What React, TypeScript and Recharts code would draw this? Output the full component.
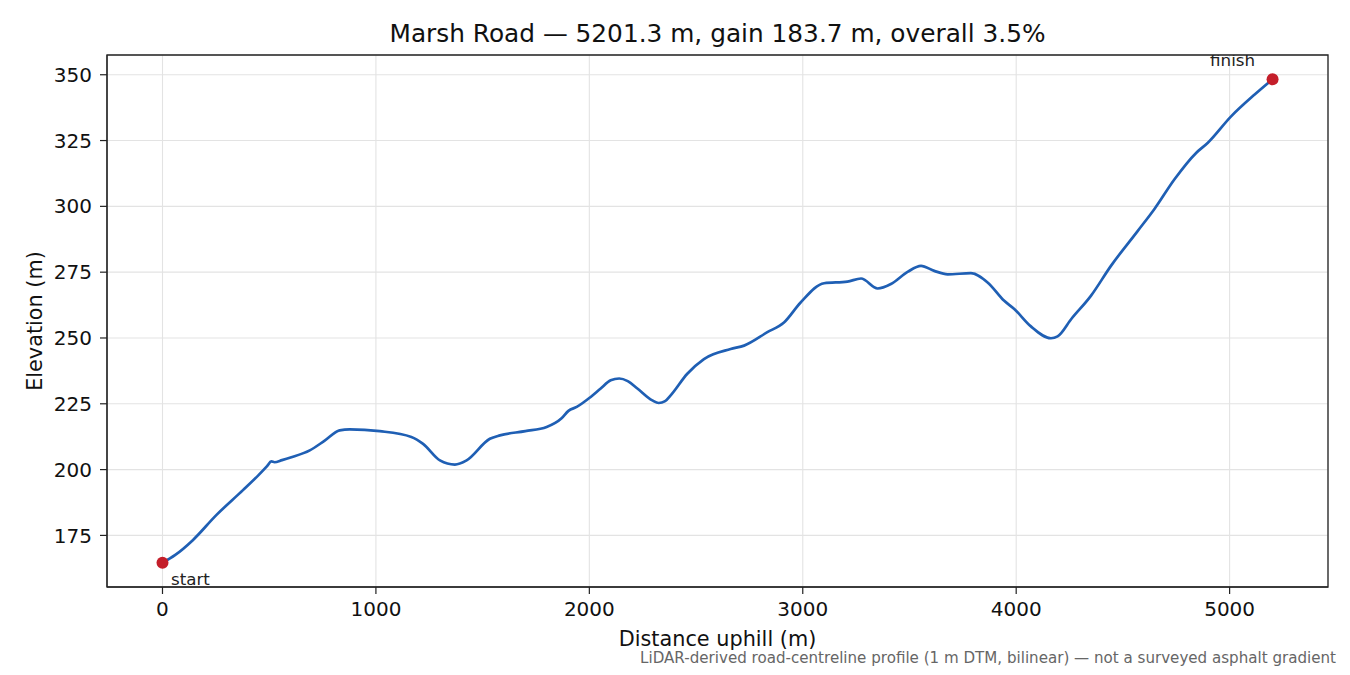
import React from "react";
import { ComposedChart, Line, Scatter, XAxis, YAxis, CartesianGrid, ReferenceArea } from "recharts";

const distances = [0, 60, 142, 252, 377, 450, 490, 510, 525, 560, 600, 690, 760, 830, 877, 1018, 1166, 1221, 1300, 1370, 1425, 1534, 1581, 1700, 1800, 1870, 1902, 1941, 2005, 2052, 2100, 2140, 2180, 2225, 2295, 2325, 2355, 2380, 2459, 2537, 2662, 2725, 2834, 2912, 2990, 3100, 3209, 3273, 3351, 3413, 3491, 3554, 3616, 3679, 3788, 3866, 3944, 3991, 4069, 4163, 4194, 4260, 4350, 4444, 4569, 4647, 4741, 4843, 4897, 5007, 5116, 5201.3];
const elevations = [164.6, 167.6, 173.2, 182.7, 192.2, 197.9, 201.3, 203.1, 202.8, 203.6, 204.6, 207.3, 211.0, 214.9, 215.3, 214.6, 212.4, 209.8, 203.5, 201.9, 203.5, 211.7, 213.0, 214.6, 216.2, 219.5, 222.3, 223.8, 227.5, 230.7, 233.9, 234.6, 233.6, 230.8, 226.3, 225.3, 226.0, 228.1, 236.4, 242.0, 245.8, 247.1, 252.2, 255.9, 263.5, 270.8, 271.4, 272.6, 268.8, 270.5, 275.1, 277.4, 275.5, 274.2, 274.6, 271.1, 264.1, 261.0, 254.4, 249.9, 250.6, 257.4, 266.0, 277.4, 290.6, 298.9, 310.2, 320.3, 324.1, 334.2, 342.4, 348.3];

const endpointNames = ["start", "finish"];
const endpointDistances = [0, 5201.3];
const endpointElevations = [164.6, 348.3];

const xTicks = [0, 1000, 2000, 3000, 4000, 5000];
const yTicks = [175, 200, 225, 250, 275, 300, 325, 350];

const profile = distances.map((d, i) => ({ d, e: elevations[i] }));
const endpoints = endpointNames.map((name, i) => ({ name, d: endpointDistances[i], e: endpointElevations[i] }));

const FONT = "'DejaVu Sans', sans-serif";

const EndShape = (props: any) => {
  const { cx, cy, payload } = props;
  const isStart = payload.name === "start";
  return (
    <g>
      <circle cx={cx} cy={cy} r={6} fill="#c41e2a" />
      <text
        x={isStart ? cx + 8.5 : cx - 62.5}
        y={isStart ? cy + 22 : cy - 13.6}
        fontSize={16.7}
        fontFamily={FONT}
        fill="#222"
      >
        {payload.name}
      </text>
    </g>
  );
};

export default function App() {
  return (
    <div style={{ position: "relative", width: 1350, height: 675, fontFamily: FONT, background: "#fff" }}>
      <style>{`body{margin:0;}`}</style>
      <div style={{ position: "absolute", left: 107, width: 1221, top: 19, textAlign: "center", fontSize: 24.8, color: "#111", whiteSpace: "nowrap" }}>
        Marsh Road — 5201.3 m, gain 183.7 m, overall 3.5%
      </div>
      <ComposedChart width={1350} height={675} data={profile} margin={{ top: 55, right: 22, bottom: 48, left: 37 }}>
        <CartesianGrid stroke="#e3e3e3" strokeWidth={1.1} />
        <XAxis
          dataKey="d"
          type="number"
          domain={[-260, 5461]}
          ticks={xTicks}
          allowDataOverflow
          height={40}
          tick={{ fontSize: 20, fill: "#111", fontFamily: FONT }}
          tickLine={{ stroke: "#222", strokeWidth: 1.2 }}
          tickSize={7}
          tickMargin={8}
          axisLine={{ stroke: "#222" }}
        />
        <YAxis
          type="number"
          domain={[155.4, 357.5]}
          ticks={yTicks}
          allowDataOverflow
          width={70}
          tick={{ fontSize: 20, fill: "#111", fontFamily: FONT }}
          tickLine={{ stroke: "#222", strokeWidth: 1.2 }}
          tickSize={7}
          tickMargin={8}
          axisLine={{ stroke: "#222" }}
        />
        <ReferenceArea x1={-260} x2={5461} y1={155.4} y2={357.5} fill="none" stroke="#222" strokeWidth={1.3} ifOverflow="visible" />
        <Line
          dataKey="e"
          type="monotone"
          stroke="#1f5fb4"
          strokeWidth={2.7}
          dot={false}
          activeDot={false}
          isAnimationActive={false}
        />
        <Scatter data={endpoints} dataKey="e" shape={<EndShape />} isAnimationActive={false} />
      </ComposedChart>
      <div style={{ position: "absolute", left: 107, width: 1221, top: 626.5, textAlign: "center", fontSize: 20.8, color: "#111", whiteSpace: "nowrap" }}>
        Distance uphill (m)
      </div>
      <div
        style={{
          position: "absolute",
          left: 35,
          top: 321,
          transform: "translate(-50%, -50%) rotate(-90deg)",
          fontSize: 20.8,
          color: "#111",
          whiteSpace: "nowrap",
        }}
      >
        Elevation (m)
      </div>
      <div style={{ position: "absolute", right: 14, top: 648.8, fontSize: 15.1, color: "#666", whiteSpace: "nowrap" }}>
        LiDAR-derived road-centreline profile (1 m DTM, bilinear) — not a surveyed asphalt gradient
      </div>
    </div>
  );
}
